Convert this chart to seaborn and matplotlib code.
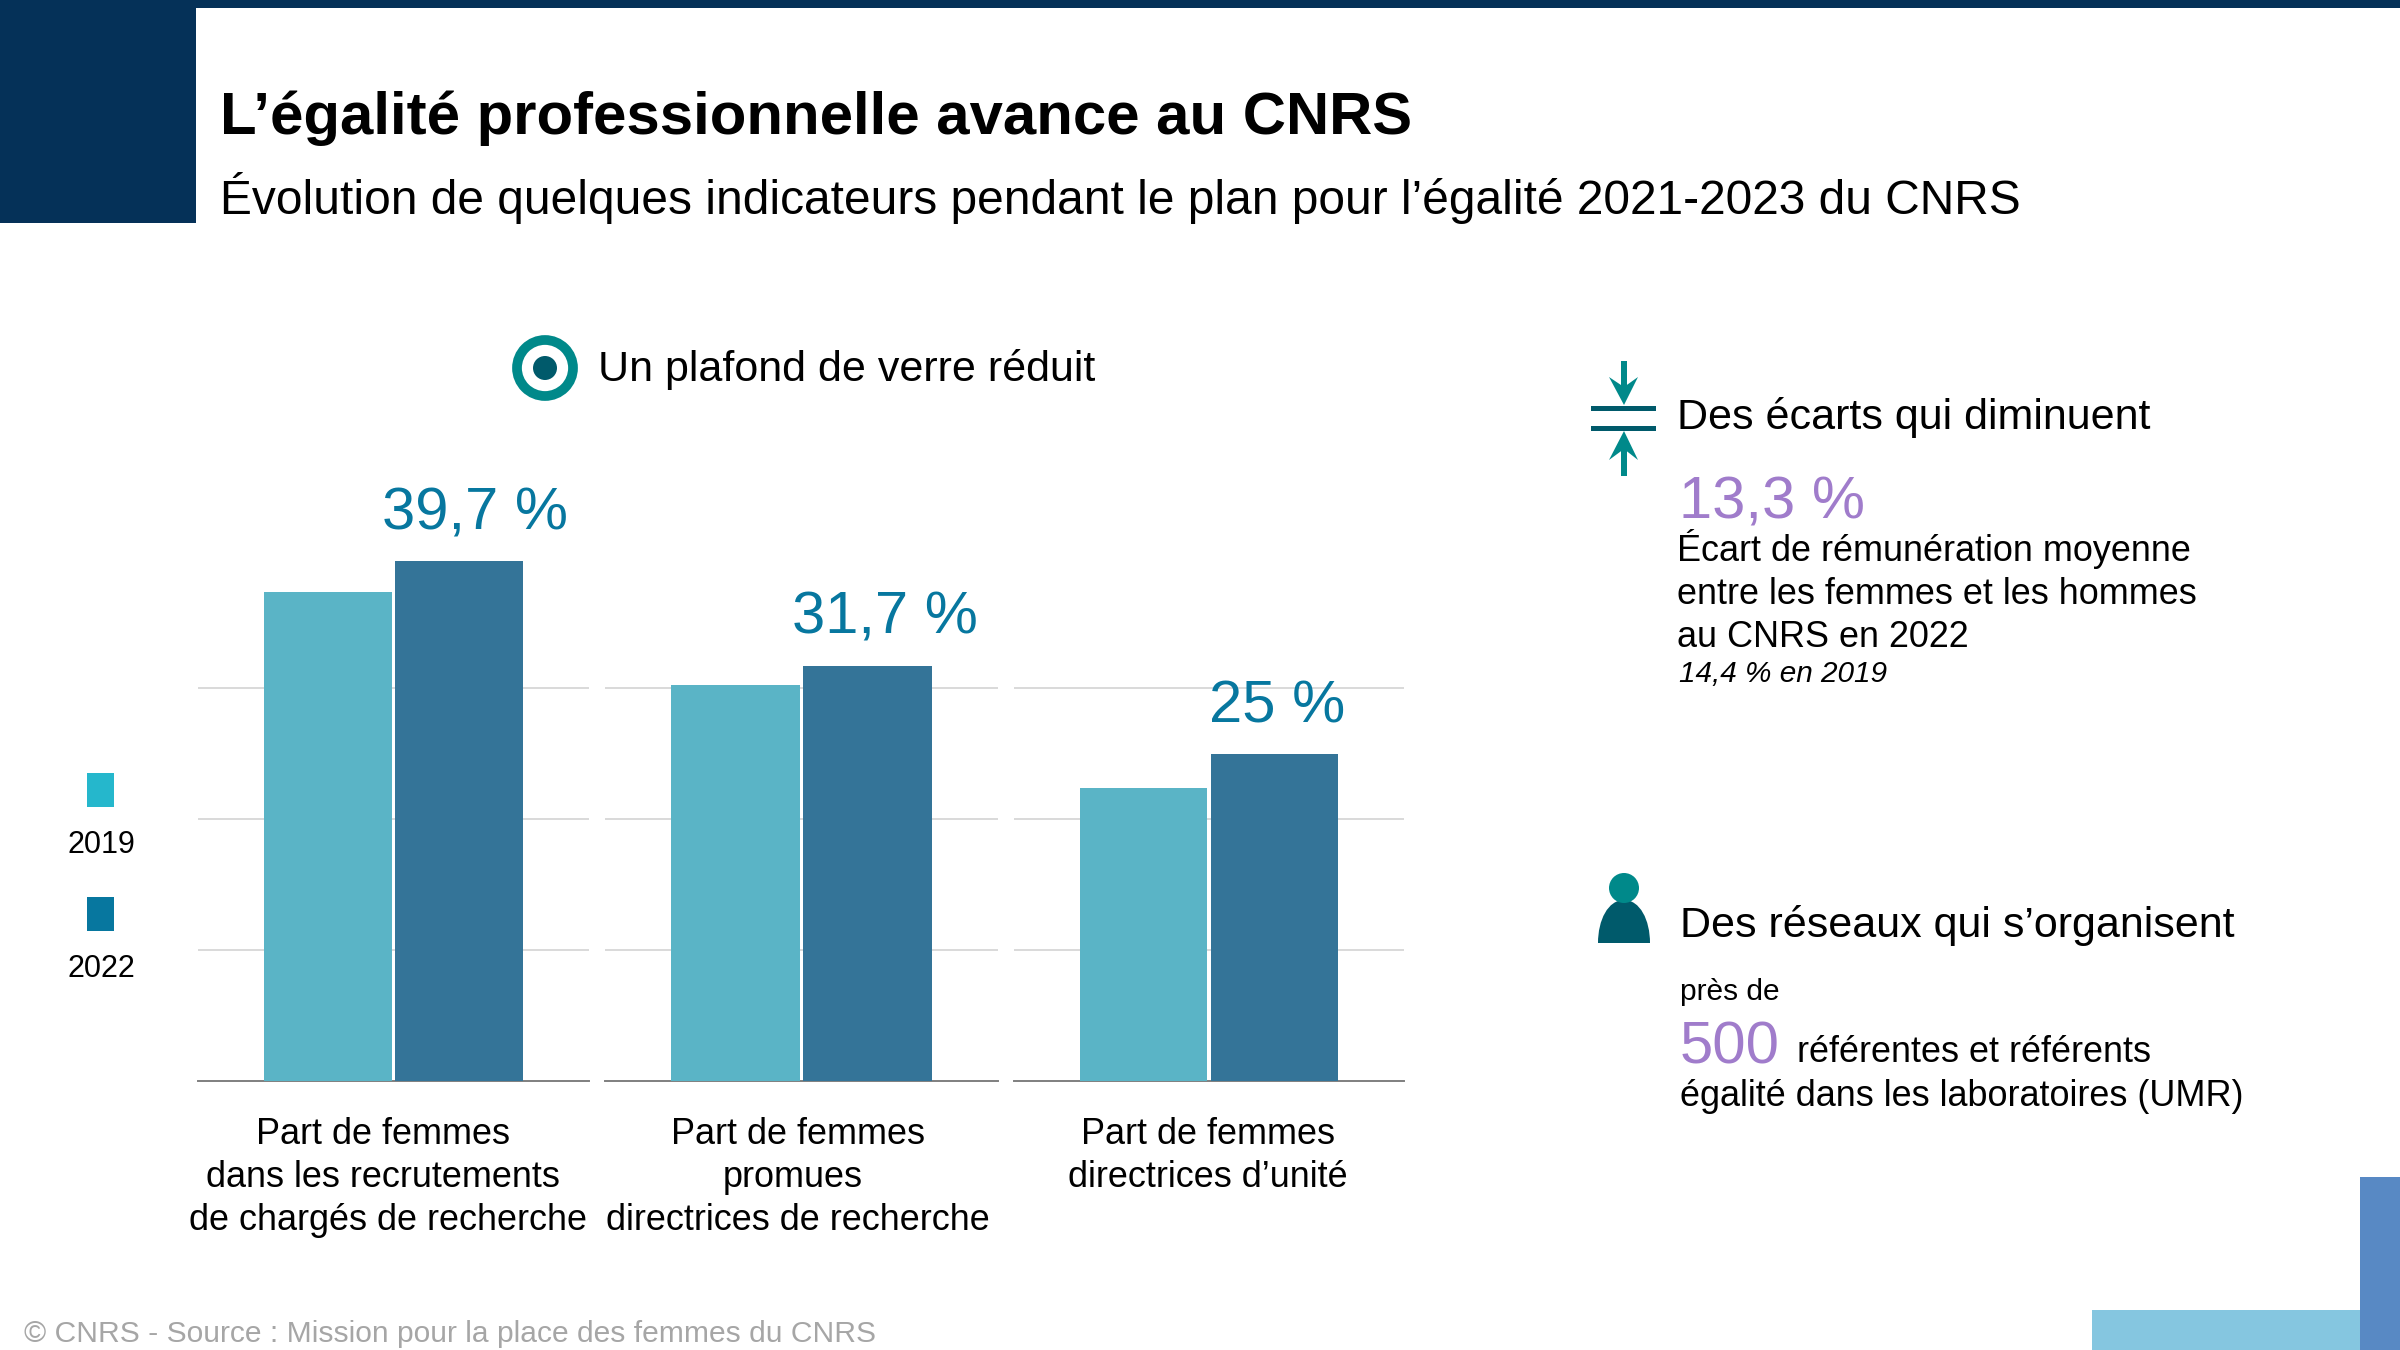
import matplotlib
matplotlib.use("Agg")
import matplotlib.pyplot as plt
import pandas as pd
import seaborn as sns
from matplotlib.patches import Circle, Ellipse, PathPatch, Polygon, Rectangle
from matplotlib.path import Path
from matplotlib.transforms import offset_copy

sns.set_theme(style="white")
plt.rcParams["font.family"] = ["Liberation Sans", "DejaVu Sans"]

categories = ["recrutements", "promues", "directrices"]
years = ["2019", "2022"]
values_2019 = [37.3, 30.2, 22.4]
values_2022 = [39.7, 31.7, 25.0]
value_labels = ["39,7 %", "31,7 %", "25 %"]
grid_values = [10, 20, 30]

NAVY = "#053158"
TEAL = "#00898A"
DARK_TEAL = "#005A6B"
PURPLE = "#A07CCB"
BLUE_TXT = "#07779F"
bar_colors = {"2019": "#5AB4C6", "2022": "#347498"}

df = pd.DataFrame(
    {
        "categorie": categories * 2,
        "annee": ["2019"] * 3 + ["2022"] * 3,
        "part": values_2019 + values_2022,
    }
)

W, H = 2400, 1350
fig = plt.figure(figsize=(24, 13.5), dpi=100, facecolor="white")

# one axes per indicator, the gridlines are cut between them
panels = [(198, 589), (605, 998), (1014, 1404)]
label_dx = [16, 17, 3]
label_dy = [31, 32, 31]
BASE_Y, PX_PER_PCT, Y_MAX = 1081, 13.1, 45
for i, cat in enumerate(categories):
    x0, x1 = panels[i]
    ax = fig.add_axes(
        [x0 / W, 1 - BASE_Y / H, (x1 - x0) / W, Y_MAX * PX_PER_PCT / H], facecolor="none"
    )
    sns.barplot(
        data=df[df["categorie"] == cat],
        x="categorie",
        y="part",
        hue="annee",
        hue_order=years,
        palette=bar_colors,
        saturation=1,
        width=0.672,
        gap=0.025,
        linewidth=0,
        legend=False,
        zorder=3,
        ax=ax,
    )
    ax.set_xlim(-0.5, 0.5)
    ax.set_ylim(0, Y_MAX)
    ax.set_xlabel("")
    ax.set_ylabel("")
    ax.set_xticks([])
    ax.set_yticks(grid_values)
    ax.set_yticklabels([])
    ax.tick_params(left=False, bottom=False)
    ax.grid(axis="y", color="#D9D9D9", lw=1.4, zorder=0)
    ax.set_axisbelow(True)
    sns.despine(ax=ax, left=True, top=True, right=True)
    ax.spines["bottom"].set_color("#7F7F7F")
    ax.spines["bottom"].set_linewidth(1.4)
    bar_2022 = ax.containers[1][0]
    tr = offset_copy(
        ax.transData, fig=fig, x=label_dx[i] * 0.72, y=label_dy[i] * 0.72, units="points"
    )
    ax.text(
        bar_2022.get_x() + bar_2022.get_width() / 2,
        bar_2022.get_height(),
        value_labels[i],
        transform=tr,
        ha="center",
        va="baseline",
        fontsize=43,
        color=BLUE_TXT,
        clip_on=False,
    )

# overlay in pixel coordinates for the slide furniture
ov = fig.add_axes([0, 0, 1, 1], facecolor="none", zorder=5)
ov.set_xlim(0, W)
ov.set_ylim(H, 0)
ov.axis("off")

ov.add_patch(Rectangle((0, 0), W, 8, color=NAVY, lw=0))
ov.add_patch(Rectangle((0, 0), 196, 223, color=NAVY, lw=0))
ov.add_patch(Rectangle((2360, 1177), 40, 173, color="#5889C4", lw=0))
ov.add_patch(Rectangle((2092, 1310), 268, 40, color="#85C6E0", lw=0))


def txt(x, y, s, size, color="black", **kw):
    ov.text(x, y, s, fontsize=size, color=color, va="baseline", **kw)


txt(220, 134, "L’égalité professionnelle avance au CNRS", 43.1, weight="bold")
txt(220, 214, "Évolution de quelques indicateurs pendant le plan pour l’égalité 2021-2023 du CNRS", 34.5)
txt(598, 381, "Un plafond de verre réduit", 31)

# axis labels, one line at a time because the slide centres them unevenly
axis_lines = [
    [(383, "Part de femmes"), (383, "dans les recrutements"), (388, "de chargés de recherche")],
    [(798, "Part de femmes"), (793, "promues"), (798, "directrices de recherche")],
    [(1208, "Part de femmes"), (1208, "directrices d’unité")],
]
for lines in axis_lines:
    for k, (xc, s) in enumerate(lines):
        txt(xc, 1144 + 43 * k, s, 25.9, ha="center")

# legend
legend_colors = ["#25B7CC", "#07779F"]
for y, col, s, yb in zip([773, 897], legend_colors, years, [853, 977]):
    ov.add_patch(Rectangle((87, y), 27, 34, color=col, lw=0))
    txt(101, yb, s, 22, ha="center")

# target icon
ov.add_patch(Ellipse((545, 368), 56, 56, fc="white", ec=TEAL, lw=7))
ov.add_patch(Circle((545, 368), 12, color=DARK_TEAL, lw=0))

# arrows icon
ov.add_patch(Rectangle((1591, 406), 65, 5, color=DARK_TEAL, lw=0))
ov.add_patch(Rectangle((1591, 426), 65, 5, color=DARK_TEAL, lw=0))
ov.add_patch(Rectangle((1621, 361), 6, 30, color=TEAL, lw=0))
ov.add_patch(Rectangle((1621, 445), 6, 31, color=TEAL, lw=0))
ov.add_patch(Polygon([(1609, 377), (1624, 405), (1638, 377), (1624, 387)], color=TEAL, lw=0))
ov.add_patch(Polygon([(1609, 460), (1624, 431), (1638, 460), (1624, 449)], color=TEAL, lw=0))

# person icon
body = Path(
    [(1598, 943), (1598, 920), (1608, 900), (1624, 900), (1640, 900), (1650, 920), (1650, 943), (1598, 943)],
    [Path.MOVETO, Path.CURVE4, Path.CURVE4, Path.CURVE4, Path.CURVE4, Path.CURVE4, Path.CURVE4, Path.CLOSEPOLY],
)
ov.add_patch(PathPatch(body, fc=DARK_TEAL, ec="none"))
ov.add_patch(Ellipse((1624, 888), 30, 30, color=TEAL, lw=0))

# right column
txt(1677, 429, "Des écarts qui diminuent", 31)
txt(1679, 518, "13,3 %", 43, color=PURPLE)
txt(1677, 561, "Écart de rémunération moyenne", 25.9)
txt(1677, 604, "entre les femmes et les hommes", 25.9)
txt(1677, 647, "au CNRS en 2022", 25.9)
txt(1679, 682, "14,4 % en 2019", 21.4, style="italic")

txt(1680, 937, "Des réseaux qui s’organisent", 31)
txt(1680, 1000, "près de", 21.5)
txt(1680, 1063, "500", 43, color=PURPLE)
txt(1797, 1062, "référentes et référents", 25.9)
txt(1680, 1106, "égalité dans les laboratoires (UMR)", 25.9)

txt(24, 1342, "© CNRS - Source : Mission pour la place des femmes du CNRS", 21.58, color="#A6A6A6")

plt.savefig("out.png", dpi=100)
